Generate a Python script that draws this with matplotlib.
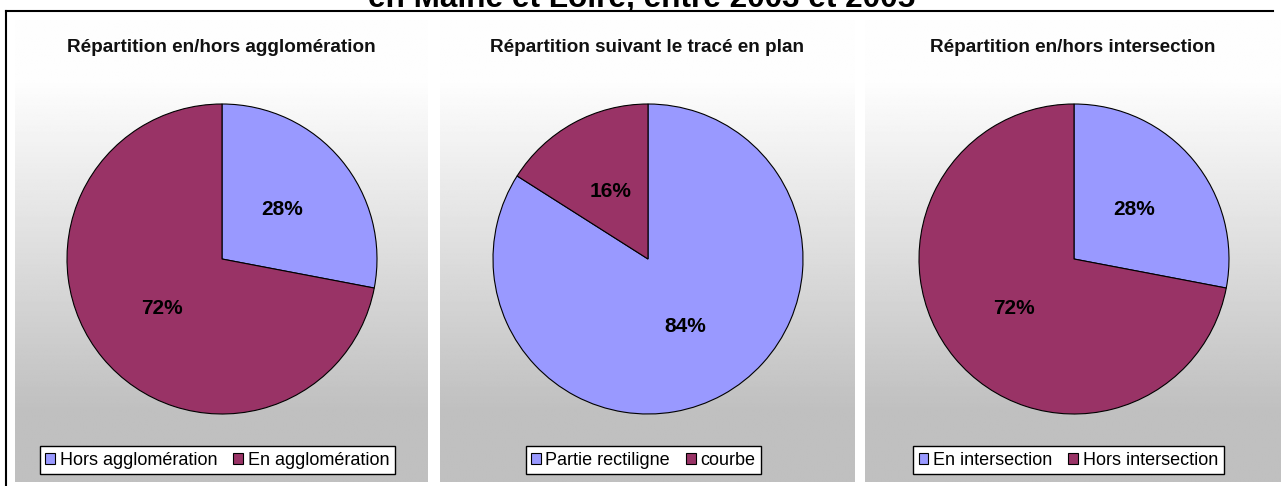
import numpy as np
import matplotlib
matplotlib.use("Agg")
import matplotlib.pyplot as plt
from matplotlib.patches import Patch
from matplotlib.lines import Line2D

plt.rcParams["font.family"] = ["Liberation Sans", "DejaVu Sans"]

# data
titles = [
    "Répartition en/hors agglomération",
    "Répartition suivant le tracé en plan",
    "Répartition en/hors intersection",
]
labels = [
    ["Hors agglomération", "En agglomération"],
    ["Partie rectiligne", "courbe"],
    ["En intersection", "Hors intersection"],
]
values = [
    [28, 72],
    [84, 16],
    [28, 72],
]
colors = ["#9999FF", "#993366"]
suptitle = "en Maine et Loire, entre 2003 et 2005"

W, H = 1283, 486
fig = plt.figure(figsize=(W / 100, H / 100), dpi=100)


def fr(x0, y0, w, h):
    # pixel box (top-left origin) -> figure fraction
    return [x0 / W, 1 - (y0 + h) / H, w / W, h / H]


# background gradient of each panel
panels = [(15, 428), (440, 855), (865, 1280)]
top, bottom = 20, 482
ys = np.linspace(top, bottom, 300)
g = np.clip(0.995 - (ys - 80) / (410 - 80) * (0.995 - 0xC0 / 255), 0xC0 / 255, 0.995)
grad = np.repeat(g[:, None], 2, axis=1)

centers = [222, 648, 1074]
cy, r = 259, 155

for i in range(3):
    x0, x1 = panels[i]
    bg = fig.add_axes(fr(x0, top, x1 - x0, bottom - top))
    bg.imshow(grad, cmap="gray", vmin=0, vmax=1, aspect="auto",
              extent=[0, 1, 0, 1], interpolation="bilinear")
    bg.set_xlim(0, 1)
    bg.set_ylim(0, 1)
    bg.axis("off")
    bg.text(0.5, 1 - (47 - top) / (bottom - top), titles[i], ha="center",
            va="center", fontsize=13.6, fontweight="bold", color="#111111",
            transform=bg.transAxes)

    ax = fig.add_axes(fr(centers[i] - r, cy - r, 2 * r, 2 * r))
    wedges, _, autotexts = ax.pie(
        values[i], colors=colors, startangle=90, counterclock=False,
        autopct="%d%%", pctdistance=0.5,
        wedgeprops=dict(edgecolor="black", linewidth=0.8),
        textprops=dict(fontsize=15, fontweight="bold", color="black"),
    )
    for w in wedges:
        w.set_clip_on(False)
    ax.set_xlim(-1, 1)
    ax.set_ylim(-1, 1)
    ax.set_aspect("equal")

    handles = [Patch(facecolor=c, edgecolor="black", linewidth=0.8) for c in colors]
    leg = bg.legend(handles, labels[i], loc="lower center",
                    bbox_to_anchor=(0.49, (bottom - 474) / (bottom - top)),
                    ncol=2, fontsize=13, frameon=True, fancybox=False,
                    edgecolor="black", framealpha=1, handlelength=0.55,
                    handleheight=0.55, handletextpad=0.25, columnspacing=0.9,
                    borderpad=0.3, borderaxespad=0)
    leg.get_frame().set_linewidth(1.0)

# outer frame lines
fig.add_artist(Line2D([6 / W, 1273 / W], [1 - 11 / H, 1 - 11 / H],
                      color="black", lw=1.5, transform=fig.transFigure))
fig.add_artist(Line2D([6 / W, 6 / W], [1 - 11 / H, 0],
                      color="black", lw=1.5, transform=fig.transFigure))

fig.text(0.5, 1 - 7 / H, suptitle, ha="center", va="baseline",
         fontsize=22.7, fontweight="bold")

fig.savefig("out.png", dpi=100)
